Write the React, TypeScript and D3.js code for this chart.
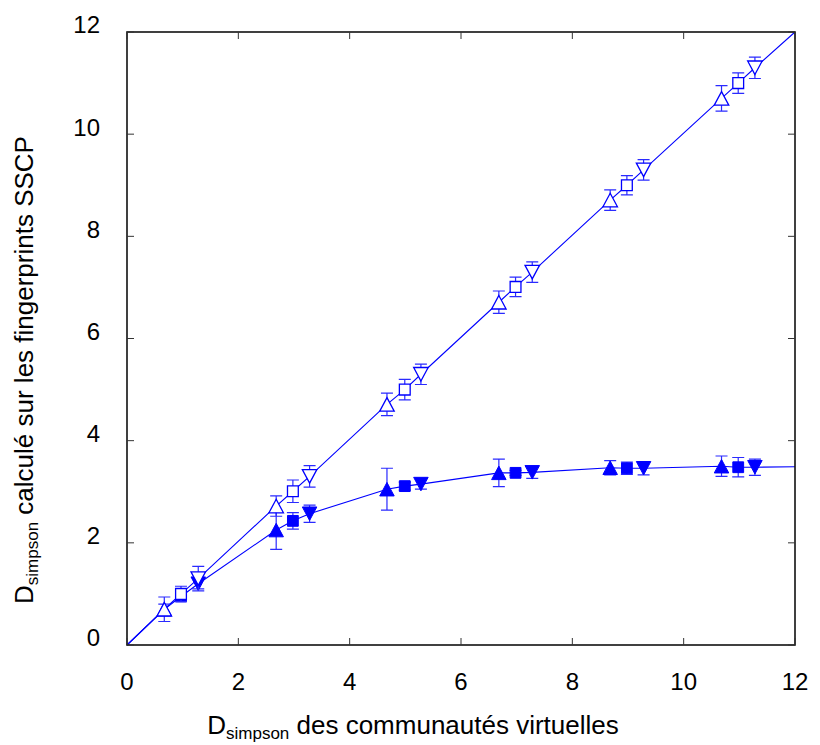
import * as d3 from 'd3';

// D_simpson des communautés virtuelles (x) vs D_simpson SSCP (y)
// three sampling series per group: triangle up, square, triangle down
const upX = [0.67, 2.68, 4.67, 6.68, 8.68, 10.68];
const sqX = [0.97, 2.98, 4.99, 6.98, 8.98, 10.98];
const dnX = [1.28, 3.28, 5.28, 7.28, 9.28, 11.28];

// open symbols (upper curve)
const openUpY = [0.7, 2.72, 4.71, 6.71, 8.71, 10.7];
const openUpErr = [0.24, 0.2, 0.22, 0.22, 0.2, 0.25];
const openSqY = [1.0, 3.01, 5.0, 7.01, 9.0, 11.0];
const openSqErr = [0.15, 0.22, 0.2, 0.19, 0.19, 0.2];
const openDnY = [1.3, 3.3, 5.3, 7.3, 9.3, 11.3];
const openDnErr = [0.24, 0.21, 0.2, 0.2, 0.2, 0.21];

// filled symbols (lower curve)
const fillUpY = [0.7, 2.25, 3.05, 3.37, 3.47, 3.5];
const fillUpErr = [0.1, 0.38, 0.41, 0.27, 0.14, 0.2];
const fillSqY = [0.95, 2.43, 3.11, 3.37, 3.46, 3.48];
const fillSqErr = [0.06, 0.16, 0.08, 0.05, 0.12, 0.19];
const fillDnY = [1.2, 2.57, 3.15, 3.38, 3.46, 3.48];
const fillDnErr = [0.1, 0.17, 0.1, 0.12, 0.13, 0.16];

// curve end points
const curveStart: [number, number] = [0, 0];
const openEnd: [number, number] = [12, 12];
const fillEnd: [number, number] = [12, 3.49];

const ticks = [0, 2, 4, 6, 8, 10, 12];

type Pt = { x: number; y: number; e: number; shape: 'up' | 'sq' | 'dn' };

function build(up: number[], upE: number[], sq: number[], sqE: number[], dn: number[], dnE: number[]): Pt[] {
  const pts: Pt[] = [];
  upX.forEach((x, i) => {
    pts.push({ x, y: up[i], e: upE[i], shape: 'up' });
    pts.push({ x: sqX[i], y: sq[i], e: sqE[i], shape: 'sq' });
    pts.push({ x: dnX[i], y: dn[i], e: dnE[i], shape: 'dn' });
  });
  return pts;
}

const BLUE = '#0000ff';
const FONT = '"Liberation Sans", Arial, Helvetica, sans-serif';

function marker(shape: Pt['shape']) {
  const w = 14.5;
  const h = 13.5;
  const s = 10.8;
  if (shape === 'up') return `M0,${-h / 2}L${w / 2},${h / 2}L${-w / 2},${h / 2}Z`;
  if (shape === 'dn') return `M0,${h / 2}L${w / 2},${-h / 2}L${-w / 2},${-h / 2}Z`;
  return `M${-s / 2},${-s / 2}H${s / 2}V${s / 2}H${-s / 2}Z`;
}

export default function App() {
  const width = 820;
  const height = 745;
  const x = d3.scaleLinear().domain([0, 12]).range([127, 795]);
  const y = d3.scaleLinear().domain([0, 12]).range([645, 32]);

  const openPts = build(openUpY, openUpErr, openSqY, openSqErr, openDnY, openDnErr);
  const fillPts = build(fillUpY, fillUpErr, fillSqY, fillSqErr, fillDnY, fillDnErr);

  const line = d3
    .line<[number, number]>()
    .x((d) => x(d[0]))
    .y((d) => y(d[1]));

  const openLine: [number, number][] = [
    curveStart,
    ...openPts.map((p) => [p.x, p.y] as [number, number]),
    openEnd
  ];
  const fillLine: [number, number][] = [
    curveStart,
    ...fillPts.map((p) => [p.x, p.y] as [number, number]),
    fillEnd
  ];

  const tickLen = 7;
  const cap = 6;

  const errBars = (pts: Pt[], key: string) =>
    pts.map((p, i) => {
      const cx = x(p.x);
      const y0 = y(p.y - p.e);
      const y1 = y(p.y + p.e);
      return (
        <path
          key={`${key}-${i}`}
          d={`M${cx},${y0}V${y1}M${cx - cap},${y0}H${cx + cap}M${cx - cap},${y1}H${cx + cap}`}
          stroke="#2a2aff"
          strokeWidth={1.2}
          fill="none"
        />
      );
    });

  return (
    <svg
      width={width}
      height={height}
      style={{ position: 'absolute', left: 0, top: 0, background: '#fff' }}
      fontFamily={FONT}
    >
      <rect width={width} height={height} fill="#fff" />

      {/* curves */}
      <path d={line(fillLine) || ''} fill="none" stroke={BLUE} strokeWidth={1.1} />
      <path d={line(openLine) || ''} fill="none" stroke={BLUE} strokeWidth={1.1} />

      {/* filled series */}
      {errBars(fillPts, 'fe')}
      {fillPts.map((p, i) => (
        <path
          key={`f-${i}`}
          d={marker(p.shape)}
          transform={`translate(${x(p.x)},${y(p.y)})`}
          fill={BLUE}
          stroke={BLUE}
          strokeWidth={1}
        />
      ))}

      {/* open series */}
      {errBars(openPts, 'oe')}
      {openPts.map((p, i) => (
        <path
          key={`o-${i}`}
          d={marker(p.shape)}
          transform={`translate(${x(p.x)},${y(p.y)})`}
          fill="#fff"
          stroke={BLUE}
          strokeWidth={1.3}
        />
      ))}

      {/* frame */}
      <rect
        x={x(0)}
        y={y(12)}
        width={x(12) - x(0)}
        height={y(0) - y(12)}
        fill="none"
        stroke="#111"
        strokeWidth={1.6}
      />

      {/* inward ticks on all four sides */}
      {ticks.map((t) => (
        <g key={`t-${t}`} stroke="#333" strokeWidth={1}>
          <line x1={x(t)} x2={x(t)} y1={y(0)} y2={y(0) - tickLen} />
          <line x1={x(t)} x2={x(t)} y1={y(12)} y2={y(12) + tickLen} />
          <line x1={x(0)} x2={x(0) + tickLen} y1={y(t)} y2={y(t)} />
          <line x1={x(12)} x2={x(12) - tickLen} y1={y(t)} y2={y(t)} />
        </g>
      ))}

      {/* tick labels */}
      {ticks.map((t) => (
        <text
          key={`yl-${t}`}
          x={100}
          y={y(t) - 7}
          dy="0.35em"
          textAnchor="end"
          fontSize={24}
          fill="#000"
        >
          {t}
        </text>
      ))}
      {ticks.map((t) => (
        <text
          key={`xl-${t}`}
          x={x(t)}
          y={690}
          textAnchor="middle"
          fontSize={24}
          fill="#000"
        >
          {t}
        </text>
      ))}

      {/* axis titles */}
      <text x={413} y={734} textAnchor="middle" fontSize={26} fill="#000" style={{ whiteSpace: 'pre' }}>
        D
        <tspan fontSize={17} dy={5}>
          simpson
        </tspan>
        <tspan dy={-5}>{' des communautés virtuelles'}</tspan>
      </text>
      <text
        transform="translate(33,370) rotate(-90)"
        textAnchor="middle"
        fontSize={26}
        fill="#000"
        style={{ whiteSpace: 'pre' }}
      >
        D
        <tspan fontSize={17} dy={5}>
          simpson
        </tspan>
        <tspan dy={-5}>{' calculé sur les fingerprints SSCP'}</tspan>
      </text>
    </svg>
  );
}
